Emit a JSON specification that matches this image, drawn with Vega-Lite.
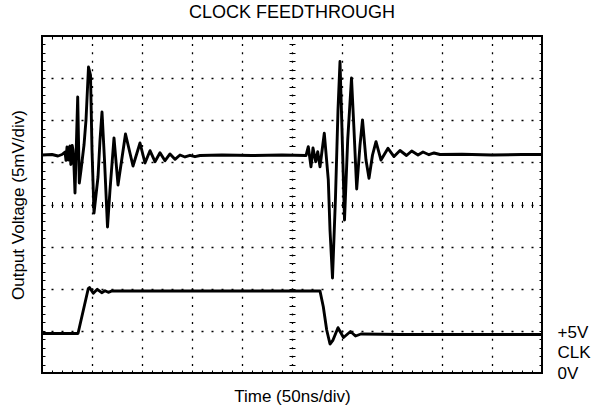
{
  "$schema": "https://vega.github.io/schema/vega-lite/v6.json",
  "width": 500,
  "height": 337,
  "autosize": "none",
  "padding": {"left": 42, "top": 36, "right": 63, "bottom": 40},
  "title": {"text": "CLOCK FEEDTHROUGH", "fontSize": 18, "fontWeight": "normal", "font": "Liberation Sans", "color": "black", "offset": 13, "anchor": "middle"},
  "config": {
    "view": {"stroke": "black", "strokeWidth": 2},
    "axis": {"labelFont": "Liberation Sans", "titleFont": "Liberation Sans", "titleFontWeight": "normal", "titleColor": "black", "labelColor": "black", "tickColor": "black", "domainColor": "black"}
  },
  "data": {"values": [
    {"s":"out","t":0,"v":1.175},{"s":"out","t":10,"v":1.187},{"s":"out","t":16,"v":1.151},{"s":"out","t":20,"v":1.187},
    {"s":"out","t":23,"v":1.246},{"s":"out","t":24,"v":1.05},{"s":"out","t":25,"v":1.365},{"s":"out","t":25.8,"v":1.1},{"s":"out","t":26.5,"v":1.056},{"s":"out","t":27.2,"v":1.35},{"s":"out","t":28,"v":1.389},
    {"s":"out","t":28.8,"v":0.95},{"s":"out","t":29.5,"v":1.009},{"s":"out","t":30.2,"v":1.4},{"s":"out","t":31,"v":1.294},{"s":"out","t":32,"v":0.9},{"s":"out","t":33,"v":0.273},{"s":"out","t":35.7,"v":2.552},
    {"s":"out","t":37.3,"v":0.51},{"s":"out","t":39,"v":0.819},{"s":"out","t":42,"v":1.412},{"s":"out","t":44,"v":2.006},
    {"s":"out","t":46.5,"v":3.264},{"s":"out","t":48.5,"v":3.074},{"s":"out","t":50,"v":1.294},{"s":"out","t":52,"v":-0.202},
    {"s":"out","t":54,"v":0.226},{"s":"out","t":56,"v":0.653},{"s":"out","t":58,"v":1.531},{"s":"out","t":60,"v":2.196},
    {"s":"out","t":62.5,"v":1.056},{"s":"out","t":65.5,"v":-0.534},{"s":"out","t":68,"v":0.344},{"s":"out","t":72,"v":1.579},
    {"s":"out","t":76,"v":0.463},{"s":"out","t":83.5,"v":1.674},{"s":"out","t":91,"v":0.914},{"s":"out","t":98,"v":1.46},
    {"s":"out","t":103,"v":0.985},{"s":"out","t":108,"v":1.277},{"s":"out","t":113,"v":1.016},{"s":"out","t":118,"v":1.23},
    {"s":"out","t":123,"v":1.04},{"s":"out","t":128,"v":1.199},{"s":"out","t":133,"v":1.073},{"s":"out","t":138,"v":1.175},
    {"s":"out","t":143,"v":1.128},{"s":"out","t":148,"v":1.168},{"s":"out","t":153,"v":1.135},{"s":"out","t":158,"v":1.163},
    {"s":"out","t":180,"v":1.175},{"s":"out","t":210,"v":1.163},{"s":"out","t":240,"v":1.175},{"s":"out","t":264,"v":1.163},
    {"s":"out","t":266.3,"v":1.372},{"s":"out","t":269,"v":0.897},{"s":"out","t":271,"v":1.341},{"s":"out","t":273.7,"v":1.016},
    {"s":"out","t":275.7,"v":1.253},{"s":"out","t":278,"v":0.897},{"s":"out","t":282.3,"v":1.69},{"s":"out","t":286.3,"v":0.582},
    {"s":"out","t":288,"v":-0.605},{"s":"out","t":290.5,"v":-1.745},{"s":"out","t":293.5,"v":0.178},{"s":"out","t":296,"v":2.243},
    {"s":"out","t":298,"v":3.395},{"s":"out","t":300,"v":1.769},{"s":"out","t":302.5,"v":-0.368},{"s":"out","t":305.7,"v":1.531},
    {"s":"out","t":309.5,"v":3.003},{"s":"out","t":312,"v":1.769},{"s":"out","t":314.7,"v":0.368},{"s":"out","t":318,"v":1.412},
    {"s":"out","t":320.5,"v":2.006},{"s":"out","t":324,"v":1.056},{"s":"out","t":327,"v":0.622},{"s":"out","t":330.5,"v":1.175},
    {"s":"out","t":334,"v":1.491},{"s":"out","t":339,"v":1.056},{"s":"out","t":346,"v":1.334},{"s":"out","t":352,"v":1.139},
    {"s":"out","t":358,"v":1.282},{"s":"out","t":364.5,"v":1.163},{"s":"out","t":369.7,"v":1.27},{"s":"out","t":376,"v":1.175},
    {"s":"out","t":381,"v":1.246},{"s":"out","t":387,"v":1.182},{"s":"out","t":392,"v":1.223},{"s":"out","t":398,"v":1.187},
    {"s":"out","t":420,"v":1.192},{"s":"out","t":450,"v":1.175},{"s":"out","t":480,"v":1.187},{"s":"out","t":500,"v":1.187},
    {"s":"clk","t":0,"v":-3.062},{"s":"clk","t":36,"v":-3.062},{"s":"clk","t":46.3,"v":-1.994},{"s":"clk","t":47.5,"v":-1.97},
    {"s":"clk","t":51.3,"v":-2.108},{"s":"clk","t":55.3,"v":-2.013},{"s":"clk","t":59.7,"v":-2.094},{"s":"clk","t":63,"v":-2.046},
    {"s":"clk","t":66.3,"v":-2.084},{"s":"clk","t":70,"v":-2.053},{"s":"clk","t":160,"v":-2.053},{"s":"clk","t":276,"v":-2.053},
    {"s":"clk","t":278,"v":-2.053},{"s":"clk","t":281.3,"v":-2.426},{"s":"clk","t":284.7,"v":-2.979},{"s":"clk","t":288,"v":-3.312},
    {"s":"clk","t":291,"v":-3.217},{"s":"clk","t":296,"v":-2.925},{"s":"clk","t":301.5,"v":-3.157},{"s":"clk","t":308.5,"v":-3.015},
    {"s":"clk","t":313.5,"v":-3.122},{"s":"clk","t":319,"v":-3.074},{"s":"clk","t":358,"v":-3.086},{"s":"clk","t":500,"v":-3.086}
  ]},
  "resolve": {"axis": {"x": "independent", "y": "independent"}},
  "layer": [
    {
      "mark": {"type": "line", "color": "black", "strokeWidth": 2.9, "strokeJoin": "round"},
      "encoding": {
        "x": {"field": "t", "type": "quantitative", "scale": {"domain": [0, 500], "nice": false, "zero": false},
          "axis": {"orient": "bottom", "values": [50,100,150,200,250,300,350,400,450],
            "labels": false, "domain": false, "ticks": true, "tickSize": -337, "grid": false,
            "tickDash": [2, 6.425], "tickDashOffset": 1, "tickWidth": 1.3,
            "title": "Time (50ns/div)", "titleFontSize": 17, "titlePadding": 15}},
        "y": {"field": "v", "type": "quantitative", "scale": {"domain": [-4, 4], "nice": false, "zero": false},
          "axis": {"orient": "left", "values": [-3,-2,-1,0,1,2,3],
            "labels": false, "domain": false, "ticks": true, "tickSize": -500, "grid": false,
            "tickDash": [2, 8], "tickDashOffset": 1, "tickWidth": 1.3,
            "title": "Output Voltage (5mV/div)", "titleFontSize": 17, "titlePadding": 14}},
        "detail": {"field": "s"}
      }
    },
    {
      "mark": {"type": "line", "opacity": 0},
      "encoding": {
        "x": {"field": "t", "type": "quantitative",
          "axis": {"orient": "top", "values": [0,10,20,30,40,50,60,70,80,90,100,110,120,130,140,150,160,170,180,190,200,210,220,230,240,250,260,270,280,290,300,310,320,330,340,350,360,370,380,390,400,410,420,430,440,450,460,470,480,490,500],
            "labels": false, "domain": false, "grid": false, "tickSize": -3, "title": null}},
        "y": {"field": "v", "type": "quantitative",
          "axis": {"orient": "right", "values": [-4,-3.8,-3.6,-3.4,-3.2,-3,-2.8,-2.6,-2.4,-2.2,-2,-1.8,-1.6,-1.4,-1.2,-1,-0.8,-0.6,-0.4,-0.2,0,0.2,0.4,0.6,0.8,1,1.2,1.4,1.6,1.8,2,2.2,2.4,2.6,2.8,3,3.2,3.4,3.6,3.8,4],
            "labels": false, "domain": false, "grid": false, "tickSize": -3, "title": null}},
        "detail": {"field": "s"}
      }
    },
    {
      "mark": {"type": "line", "opacity": 0},
      "encoding": {
        "x": {"field": "t", "type": "quantitative",
          "axis": {"orient": "bottom", "offset": -171.5, "values": [0,10,20,30,40,50,60,70,80,90,100,110,120,130,140,150,160,170,180,190,200,210,220,230,240,250,260,270,280,290,300,310,320,330,340,350,360,370,380,390,400,410,420,430,440,450,460,470,480,490,500],
            "labels": false, "domain": false, "grid": false, "tickSize": 6, "title": null}},
        "y": {"field": "v", "type": "quantitative",
          "axis": {"orient": "left", "offset": -253, "values": [-4,-3.8,-3.6,-3.4,-3.2,-3,-2.8,-2.6,-2.4,-2.2,-2,-1.8,-1.6,-1.4,-1.2,-1,-0.8,-0.6,-0.4,-0.2,0,0.2,0.4,0.6,0.8,1,1.2,1.4,1.6,1.8,2,2.2,2.4,2.6,2.8,3,3.2,3.4,3.6,3.8,4],
            "labels": false, "domain": false, "grid": false, "tickSize": 6, "title": null}},
        "detail": {"field": "s"}
      }
    },
    {
      "mark": {"type": "line", "opacity": 0},
      "encoding": {
        "x": {"field": "t", "type": "quantitative",
          "axis": {"orient": "bottom", "values": [0,10,20,30,40,50,60,70,80,90,100,110,120,130,140,150,160,170,180,190,200,210,220,230,240,250,260,270,280,290,300,310,320,330,340,350,360,370,380,390,400,410,420,430,440,450,460,470,480,490,500],
            "labels": false, "domain": false, "grid": false, "tickSize": -3, "title": null}},
        "y": {"field": "v", "type": "quantitative",
          "axis": {"orient": "right", "values": [-3.03, -3.52, -4],
            "labelExpr": "datum.value > -3.3 ? '+5V' : (datum.value > -3.8 ? 'CLK' : '0V')",
            "ticks": false, "domain": false, "grid": false, "labelPadding": 15, "labelFontSize": 17, "labelAlign": "left", "labelBaseline": "middle", "labelFlush": false, "labelOverlap": false, "labelBound": false, "title": null}},
        "detail": {"field": "s"}
      }
    },
    {
      "mark": {"type": "line", "opacity": 0},
      "encoding": {
        "x": {"field": "t", "type": "quantitative", "axis": null},
        "y": {"field": "v", "type": "quantitative",
          "axis": {"orient": "left", "values": [-4,-3.8,-3.6,-3.4,-3.2,-3,-2.8,-2.6,-2.4,-2.2,-2,-1.8,-1.6,-1.4,-1.2,-1,-0.8,-0.6,-0.4,-0.2,0,0.2,0.4,0.6,0.8,1,1.2,1.4,1.6,1.8,2,2.2,2.4,2.6,2.8,3,3.2,3.4,3.6,3.8,4],
            "labels": false, "domain": false, "grid": false, "tickSize": -3, "title": null}},
        "detail": {"field": "s"}
      }
    }
  ]
}
